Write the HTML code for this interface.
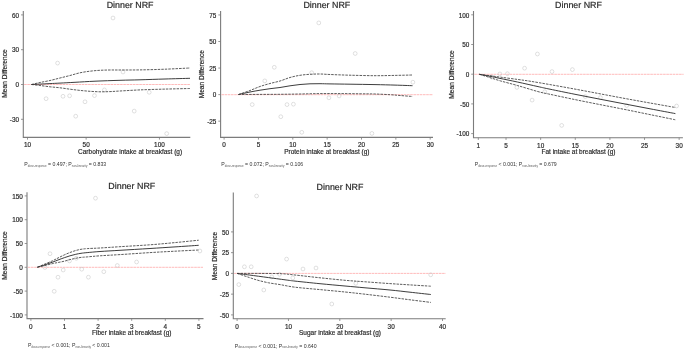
<!DOCTYPE html>
<html><head><meta charset="utf-8"><style>
html,body{margin:0;padding:0;background:#fff;}
svg{display:block;filter:blur(0.3px);}
text{font-family:"Liberation Sans", sans-serif;stroke:#2a2a2a;stroke-width:0.18px;}
.gp{text-rendering:geometricPrecision;}
</style></head><body>
<svg width="685" height="350" viewBox="0 0 685 350">
<rect width="685" height="350" fill="#fff"/>
<path d="M23.3,11 V137.4 H190.3" fill="none" stroke="#7c7c7c" stroke-width="1.1"/>
<line x1="21.0" y1="14.90" x2="23.3" y2="14.90" stroke="#7c7c7c" stroke-width="0.8"/>
<text x="19.1" y="17.6" font-size="6.4" text-anchor="end" fill="#2a2a2a" >60</text>
<line x1="21.0" y1="49.70" x2="23.3" y2="49.70" stroke="#7c7c7c" stroke-width="0.8"/>
<text x="19.1" y="52.4" font-size="6.4" text-anchor="end" fill="#2a2a2a" >30</text>
<line x1="21.0" y1="84.50" x2="23.3" y2="84.50" stroke="#7c7c7c" stroke-width="0.8"/>
<text x="19.1" y="87.2" font-size="6.4" text-anchor="end" fill="#2a2a2a" >0</text>
<line x1="21.0" y1="119.30" x2="23.3" y2="119.30" stroke="#7c7c7c" stroke-width="0.8"/>
<text x="19.1" y="122.0" font-size="6.4" text-anchor="end" fill="#2a2a2a" >-30</text>
<line x1="27.50" y1="137.4" x2="27.50" y2="139.6" stroke="#7c7c7c" stroke-width="0.8"/>
<text x="27.5" y="147.3" font-size="6.4" text-anchor="middle" fill="#2a2a2a" >10</text>
<line x1="86.14" y1="137.4" x2="86.14" y2="139.6" stroke="#7c7c7c" stroke-width="0.8"/>
<text x="86.14" y="147.3" font-size="6.4" text-anchor="middle" fill="#2a2a2a" >50</text>
<line x1="159.44" y1="137.4" x2="159.44" y2="139.6" stroke="#7c7c7c" stroke-width="0.8"/>
<text x="159.44" y="147.3" font-size="6.4" text-anchor="middle" fill="#2a2a2a" >100</text>
<line x1="24.1" y1="84.5" x2="190" y2="84.5" stroke="#ffaaaa" stroke-width="0.8" stroke-dasharray="2.6 0.6"/>
<circle cx="113" cy="18" r="1.9" fill="none" stroke="#c0c0c0" stroke-width="0.5"/>
<circle cx="57.6" cy="63.1" r="1.9" fill="none" stroke="#c0c0c0" stroke-width="0.5"/>
<circle cx="46.1" cy="98.7" r="1.9" fill="none" stroke="#c0c0c0" stroke-width="0.5"/>
<circle cx="63" cy="96.3" r="1.9" fill="none" stroke="#c0c0c0" stroke-width="0.5"/>
<circle cx="69.6" cy="95.8" r="1.9" fill="none" stroke="#c0c0c0" stroke-width="0.5"/>
<circle cx="85" cy="101.8" r="1.9" fill="none" stroke="#c0c0c0" stroke-width="0.5"/>
<circle cx="75.7" cy="116.2" r="1.9" fill="none" stroke="#c0c0c0" stroke-width="0.5"/>
<circle cx="94.5" cy="95.6" r="1.9" fill="none" stroke="#c0c0c0" stroke-width="0.5"/>
<circle cx="104.4" cy="89.9" r="1.9" fill="none" stroke="#c0c0c0" stroke-width="0.5"/>
<circle cx="123" cy="72" r="1.9" fill="none" stroke="#c0c0c0" stroke-width="0.5"/>
<circle cx="149.2" cy="92.3" r="1.9" fill="none" stroke="#c0c0c0" stroke-width="0.5"/>
<circle cx="134.2" cy="111.1" r="1.9" fill="none" stroke="#c0c0c0" stroke-width="0.5"/>
<circle cx="166.7" cy="133.6" r="1.9" fill="none" stroke="#c0c0c0" stroke-width="0.5"/>
<path d="M31.50,84.50 C32.92,84.17 36.92,83.17 40.00,82.50 C43.08,81.83 46.67,81.25 50.00,80.50 C53.33,79.75 56.67,78.83 60.00,78.00 C63.33,77.17 66.67,76.37 70.00,75.50 C73.33,74.63 76.67,73.52 80.00,72.80 C83.33,72.08 86.67,71.62 90.00,71.20 C93.33,70.78 96.67,70.50 100.00,70.30 C103.33,70.10 106.67,70.05 110.00,70.00 C113.33,69.95 115.00,70.02 120.00,70.00 C125.00,69.98 132.50,70.03 140.00,69.90 C147.50,69.77 156.67,69.52 165.00,69.20 C173.33,68.88 185.83,68.20 190.00,68.00" fill="none" stroke="#4a4a4a" stroke-width="0.9" stroke-dasharray="2.5 1.05"/>
<path d="M31.50,84.50 C32.92,84.67 36.92,85.12 40.00,85.50 C43.08,85.88 46.67,86.42 50.00,86.80 C53.33,87.18 56.67,87.40 60.00,87.80 C63.33,88.20 66.67,88.77 70.00,89.20 C73.33,89.63 76.67,90.05 80.00,90.40 C83.33,90.75 86.67,91.07 90.00,91.30 C93.33,91.53 96.67,91.75 100.00,91.80 C103.33,91.85 106.67,91.73 110.00,91.60 C113.33,91.47 115.00,91.28 120.00,91.00 C125.00,90.72 132.50,90.22 140.00,89.90 C147.50,89.58 156.67,89.33 165.00,89.10 C173.33,88.87 185.83,88.60 190.00,88.50" fill="none" stroke="#4a4a4a" stroke-width="0.9" stroke-dasharray="2.5 1.05"/>
<path d="M31.50,84.50 C32.92,84.43 36.92,84.25 40.00,84.10 C43.08,83.95 46.67,83.77 50.00,83.60 C53.33,83.43 55.83,83.32 60.00,83.10 C64.17,82.88 69.17,82.62 75.00,82.30 C80.83,81.98 87.50,81.53 95.00,81.20 C102.50,80.87 112.50,80.53 120.00,80.30 C127.50,80.07 132.50,80.02 140.00,79.80 C147.50,79.58 156.67,79.25 165.00,79.00 C173.33,78.75 185.83,78.42 190.00,78.30" fill="none" stroke="#333" stroke-width="0.95"/>
<text x="130.1" y="8.0" font-size="8.9" text-anchor="middle" fill="#1e1e1e"  class="gp">Dinner NRF</text>
<text x="130.1" y="153.6" font-size="6.5" text-anchor="middle" fill="#2a2a2a" >Carbohydrate intake at breakfast (g)</text>
<text x="0" y="0" font-size="6.6" text-anchor="middle" fill="#2a2a2a" transform="translate(7.0,73.5) rotate(-90)">Mean Difference</text>
<text x="24.3" y="166.2" font-size="5.2" fill="#333" style="stroke:none">P<tspan font-size="2.85" dy="0.4" fill="#5a5a5a">dose-response</tspan><tspan dy="-0.4"> = 0.497; P</tspan><tspan font-size="2.85" dy="0.4" fill="#5a5a5a">non-linearity</tspan><tspan dy="-0.4"> = 0.833</tspan></text>
<path d="M220.6,11 V137.4 H433" fill="none" stroke="#7c7c7c" stroke-width="1.1"/>
<line x1="218.29999999999998" y1="14.95" x2="220.6" y2="14.95" stroke="#7c7c7c" stroke-width="0.8"/>
<text x="216.4" y="17.65" font-size="6.4" text-anchor="end" fill="#2a2a2a" >75</text>
<line x1="218.29999999999998" y1="41.50" x2="220.6" y2="41.50" stroke="#7c7c7c" stroke-width="0.8"/>
<text x="216.4" y="44.2" font-size="6.4" text-anchor="end" fill="#2a2a2a" >50</text>
<line x1="218.29999999999998" y1="68.05" x2="220.6" y2="68.05" stroke="#7c7c7c" stroke-width="0.8"/>
<text x="216.4" y="70.75" font-size="6.4" text-anchor="end" fill="#2a2a2a" >25</text>
<line x1="218.29999999999998" y1="94.60" x2="220.6" y2="94.60" stroke="#7c7c7c" stroke-width="0.8"/>
<text x="216.4" y="97.3" font-size="6.4" text-anchor="end" fill="#2a2a2a" >0</text>
<line x1="218.29999999999998" y1="121.15" x2="220.6" y2="121.15" stroke="#7c7c7c" stroke-width="0.8"/>
<text x="216.4" y="123.85" font-size="6.4" text-anchor="end" fill="#2a2a2a" >-25</text>
<line x1="224.10" y1="137.4" x2="224.10" y2="139.6" stroke="#7c7c7c" stroke-width="0.8"/>
<text x="224.1" y="147.2" font-size="6.4" text-anchor="middle" fill="#2a2a2a" >0</text>
<line x1="258.45" y1="137.4" x2="258.45" y2="139.6" stroke="#7c7c7c" stroke-width="0.8"/>
<text x="258.45" y="147.2" font-size="6.4" text-anchor="middle" fill="#2a2a2a" >5</text>
<line x1="292.80" y1="137.4" x2="292.80" y2="139.6" stroke="#7c7c7c" stroke-width="0.8"/>
<text x="292.8" y="147.2" font-size="6.4" text-anchor="middle" fill="#2a2a2a" >10</text>
<line x1="327.15" y1="137.4" x2="327.15" y2="139.6" stroke="#7c7c7c" stroke-width="0.8"/>
<text x="327.15" y="147.2" font-size="6.4" text-anchor="middle" fill="#2a2a2a" >15</text>
<line x1="361.50" y1="137.4" x2="361.50" y2="139.6" stroke="#7c7c7c" stroke-width="0.8"/>
<text x="361.5" y="147.2" font-size="6.4" text-anchor="middle" fill="#2a2a2a" >20</text>
<line x1="395.85" y1="137.4" x2="395.85" y2="139.6" stroke="#7c7c7c" stroke-width="0.8"/>
<text x="395.85" y="147.2" font-size="6.4" text-anchor="middle" fill="#2a2a2a" >25</text>
<line x1="430.20" y1="137.4" x2="430.20" y2="139.6" stroke="#7c7c7c" stroke-width="0.8"/>
<text x="430.2" y="147.2" font-size="6.4" text-anchor="middle" fill="#2a2a2a" >30</text>
<line x1="221.4" y1="94.7" x2="433" y2="94.7" stroke="#ffaaaa" stroke-width="0.8" stroke-dasharray="2.6 0.6"/>
<circle cx="318.8" cy="22.9" r="1.9" fill="none" stroke="#c0c0c0" stroke-width="0.5"/>
<circle cx="355.2" cy="53.5" r="1.9" fill="none" stroke="#c0c0c0" stroke-width="0.5"/>
<circle cx="274.3" cy="67.3" r="1.9" fill="none" stroke="#c0c0c0" stroke-width="0.5"/>
<circle cx="264.8" cy="80.9" r="1.9" fill="none" stroke="#c0c0c0" stroke-width="0.5"/>
<circle cx="311.7" cy="72.7" r="1.9" fill="none" stroke="#c0c0c0" stroke-width="0.5"/>
<circle cx="412.9" cy="82.2" r="1.9" fill="none" stroke="#c0c0c0" stroke-width="0.5"/>
<circle cx="252.2" cy="104.6" r="1.9" fill="none" stroke="#c0c0c0" stroke-width="0.5"/>
<circle cx="287" cy="104.6" r="1.9" fill="none" stroke="#c0c0c0" stroke-width="0.5"/>
<circle cx="293.4" cy="104.2" r="1.9" fill="none" stroke="#c0c0c0" stroke-width="0.5"/>
<circle cx="280.8" cy="116.7" r="1.9" fill="none" stroke="#c0c0c0" stroke-width="0.5"/>
<circle cx="301.8" cy="132.3" r="1.9" fill="none" stroke="#c0c0c0" stroke-width="0.5"/>
<circle cx="328.9" cy="97.8" r="1.9" fill="none" stroke="#c0c0c0" stroke-width="0.5"/>
<circle cx="339.1" cy="95.9" r="1.9" fill="none" stroke="#c0c0c0" stroke-width="0.5"/>
<circle cx="371.9" cy="133.4" r="1.9" fill="none" stroke="#c0c0c0" stroke-width="0.5"/>
<path d="M238.50,94.50 C240.42,93.83 246.42,91.83 250.00,90.50 C253.58,89.17 256.67,87.67 260.00,86.50 C263.33,85.33 266.67,84.42 270.00,83.50 C273.33,82.58 276.67,82.00 280.00,81.00 C283.33,80.00 286.67,78.45 290.00,77.50 C293.33,76.55 296.67,75.83 300.00,75.30 C303.33,74.77 306.67,74.52 310.00,74.30 C313.33,74.08 316.67,73.97 320.00,74.00 C323.33,74.03 325.00,74.30 330.00,74.50 C335.00,74.70 342.50,75.00 350.00,75.20 C357.50,75.40 367.50,75.67 375.00,75.70 C382.50,75.73 388.75,75.52 395.00,75.40 C401.25,75.28 409.58,75.07 412.50,75.00" fill="none" stroke="#4a4a4a" stroke-width="0.9" stroke-dasharray="2.5 1.05"/>
<path d="M238.50,94.50 C242.08,94.48 253.08,94.43 260.00,94.40 C266.92,94.37 273.33,94.37 280.00,94.30 C286.67,94.23 293.33,94.12 300.00,94.00 C306.67,93.88 313.33,93.67 320.00,93.60 C326.67,93.53 333.33,93.57 340.00,93.60 C346.67,93.63 354.17,93.73 360.00,93.80 C365.83,93.87 370.00,93.85 375.00,94.00 C380.00,94.15 385.83,94.45 390.00,94.70 C394.17,94.95 396.25,95.20 400.00,95.50 C403.75,95.80 410.42,96.33 412.50,96.50" fill="none" stroke="#4a4a4a" stroke-width="0.9" stroke-dasharray="2.5 1.05"/>
<path d="M238.50,94.50 C240.42,94.08 246.42,92.72 250.00,92.00 C253.58,91.28 256.67,90.75 260.00,90.20 C263.33,89.65 266.67,89.15 270.00,88.70 C273.33,88.25 276.67,87.98 280.00,87.50 C283.33,87.02 286.67,86.30 290.00,85.80 C293.33,85.30 296.67,84.83 300.00,84.50 C303.33,84.17 306.67,83.93 310.00,83.80 C313.33,83.67 316.67,83.68 320.00,83.70 C323.33,83.72 325.00,83.82 330.00,83.90 C335.00,83.98 342.50,84.08 350.00,84.20 C357.50,84.32 367.50,84.45 375.00,84.60 C382.50,84.75 388.75,84.92 395.00,85.10 C401.25,85.28 409.58,85.60 412.50,85.70" fill="none" stroke="#333" stroke-width="0.95"/>
<text x="326.85" y="8.1" font-size="8.9" text-anchor="middle" fill="#1e1e1e"  class="gp">Dinner NRF</text>
<text x="326.85" y="153.6" font-size="6.5" text-anchor="middle" fill="#2a2a2a" >Protein intake at breakfast (g)</text>
<text x="0" y="0" font-size="6.6" text-anchor="middle" fill="#2a2a2a" transform="translate(204.0,74.2) rotate(-90)">Mean Difference</text>
<text x="221.3" y="166.2" font-size="5.2" fill="#333" style="stroke:none">P<tspan font-size="2.85" dy="0.4" fill="#5a5a5a">dose-response</tspan><tspan dy="-0.4"> = 0.072; P</tspan><tspan font-size="2.85" dy="0.4" fill="#5a5a5a">non-linearity</tspan><tspan dy="-0.4"> = 0.106</tspan></text>
<path d="M473.5,11 V137.7 H682.9" fill="none" stroke="#7c7c7c" stroke-width="1.1"/>
<line x1="471.2" y1="14.80" x2="473.5" y2="14.80" stroke="#7c7c7c" stroke-width="0.8"/>
<text x="469.3" y="17.5" font-size="6.4" text-anchor="end" fill="#2a2a2a" >100</text>
<line x1="471.2" y1="44.50" x2="473.5" y2="44.50" stroke="#7c7c7c" stroke-width="0.8"/>
<text x="469.3" y="47.2" font-size="6.4" text-anchor="end" fill="#2a2a2a" >50</text>
<line x1="471.2" y1="74.20" x2="473.5" y2="74.20" stroke="#7c7c7c" stroke-width="0.8"/>
<text x="469.3" y="76.9" font-size="6.4" text-anchor="end" fill="#2a2a2a" >0</text>
<line x1="471.2" y1="103.90" x2="473.5" y2="103.90" stroke="#7c7c7c" stroke-width="0.8"/>
<text x="469.3" y="106.6" font-size="6.4" text-anchor="end" fill="#2a2a2a" >-50</text>
<line x1="471.2" y1="133.60" x2="473.5" y2="133.60" stroke="#7c7c7c" stroke-width="0.8"/>
<text x="469.3" y="136.3" font-size="6.4" text-anchor="end" fill="#2a2a2a" >-100</text>
<line x1="478.32" y1="137.7" x2="478.32" y2="139.89999999999998" stroke="#7c7c7c" stroke-width="0.8"/>
<text x="478.32" y="147.6" font-size="6.4" text-anchor="middle" fill="#2a2a2a" >1</text>
<line x1="506.02" y1="137.7" x2="506.02" y2="139.89999999999998" stroke="#7c7c7c" stroke-width="0.8"/>
<text x="506.02" y="147.6" font-size="6.4" text-anchor="middle" fill="#2a2a2a" >5</text>
<line x1="540.65" y1="137.7" x2="540.65" y2="139.89999999999998" stroke="#7c7c7c" stroke-width="0.8"/>
<text x="540.65" y="147.6" font-size="6.4" text-anchor="middle" fill="#2a2a2a" >10</text>
<line x1="575.27" y1="137.7" x2="575.27" y2="139.89999999999998" stroke="#7c7c7c" stroke-width="0.8"/>
<text x="575.27" y="147.6" font-size="6.4" text-anchor="middle" fill="#2a2a2a" >15</text>
<line x1="609.90" y1="137.7" x2="609.90" y2="139.89999999999998" stroke="#7c7c7c" stroke-width="0.8"/>
<text x="609.9" y="147.6" font-size="6.4" text-anchor="middle" fill="#2a2a2a" >20</text>
<line x1="644.52" y1="137.7" x2="644.52" y2="139.89999999999998" stroke="#7c7c7c" stroke-width="0.8"/>
<text x="644.52" y="147.6" font-size="6.4" text-anchor="middle" fill="#2a2a2a" >25</text>
<line x1="679.15" y1="137.7" x2="679.15" y2="139.89999999999998" stroke="#7c7c7c" stroke-width="0.8"/>
<text x="679.15" y="147.6" font-size="6.4" text-anchor="middle" fill="#2a2a2a" >30</text>
<line x1="474.3" y1="74.3" x2="683.6" y2="74.3" stroke="#ffaaaa" stroke-width="0.8" stroke-dasharray="2.6 0.6"/>
<circle cx="537.4" cy="54" r="1.9" fill="none" stroke="#c0c0c0" stroke-width="0.5"/>
<circle cx="524.6" cy="68.2" r="1.9" fill="none" stroke="#c0c0c0" stroke-width="0.5"/>
<circle cx="499.9" cy="73.9" r="1.9" fill="none" stroke="#c0c0c0" stroke-width="0.5"/>
<circle cx="507.4" cy="73.7" r="1.9" fill="none" stroke="#c0c0c0" stroke-width="0.5"/>
<circle cx="552" cy="71.6" r="1.9" fill="none" stroke="#c0c0c0" stroke-width="0.5"/>
<circle cx="572.4" cy="69.6" r="1.9" fill="none" stroke="#c0c0c0" stroke-width="0.5"/>
<circle cx="516.9" cy="87.4" r="1.9" fill="none" stroke="#c0c0c0" stroke-width="0.5"/>
<circle cx="544.8" cy="91.8" r="1.9" fill="none" stroke="#c0c0c0" stroke-width="0.5"/>
<circle cx="532.1" cy="100.1" r="1.9" fill="none" stroke="#c0c0c0" stroke-width="0.5"/>
<circle cx="561.7" cy="125.4" r="1.9" fill="none" stroke="#c0c0c0" stroke-width="0.5"/>
<circle cx="676.6" cy="106" r="1.9" fill="none" stroke="#c0c0c0" stroke-width="0.5"/>
<circle cx="585.3" cy="96.6" r="1.9" fill="none" stroke="#c0c0c0" stroke-width="0.5"/>
<circle cx="600.4" cy="97.6" r="1.9" fill="none" stroke="#c0c0c0" stroke-width="0.5"/>
<circle cx="626.7" cy="105.5" r="1.9" fill="none" stroke="#c0c0c0" stroke-width="0.5"/>
<circle cx="491.7" cy="77.1" r="1.9" fill="none" stroke="#c0c0c0" stroke-width="0.5"/>
<path d="M479.30,74.30 C481.08,74.53 486.42,75.22 490.00,75.70 C493.58,76.18 496.23,76.58 500.80,77.20 C505.37,77.82 512.53,78.73 517.40,79.40 C522.27,80.07 524.57,80.33 530.00,81.20 C535.43,82.07 542.50,83.28 550.00,84.60 C557.50,85.92 566.67,87.57 575.00,89.10 C583.33,90.63 591.67,92.23 600.00,93.80 C608.33,95.37 616.67,96.97 625.00,98.50 C633.33,100.03 641.60,101.50 650.00,103.00 C658.40,104.50 671.17,106.75 675.40,107.50" fill="none" stroke="#4a4a4a" stroke-width="0.9" stroke-dasharray="2.5 1.05"/>
<path d="M479.30,74.30 C481.08,74.85 486.42,76.48 490.00,77.60 C493.58,78.72 496.23,79.68 500.80,81.00 C505.37,82.32 511.20,83.73 517.40,85.50 C523.60,87.27 532.57,90.13 538.00,91.60 C543.43,93.07 543.83,92.97 550.00,94.30 C556.17,95.63 566.67,97.88 575.00,99.60 C583.33,101.32 591.67,102.95 600.00,104.60 C608.33,106.25 616.67,107.83 625.00,109.50 C633.33,111.17 641.60,112.88 650.00,114.60 C658.40,116.32 671.17,118.93 675.40,119.80" fill="none" stroke="#4a4a4a" stroke-width="0.9" stroke-dasharray="2.5 1.05"/>
<path d="M479.30,74.30 C481.08,74.63 486.55,75.62 490.00,76.30 C493.45,76.98 495.43,77.45 500.00,78.40 C504.57,79.35 511.07,80.63 517.40,82.00 C523.73,83.37 532.57,85.40 538.00,86.60 C543.43,87.80 543.83,87.92 550.00,89.20 C556.17,90.48 566.67,92.63 575.00,94.30 C583.33,95.97 591.67,97.58 600.00,99.20 C608.33,100.82 616.67,102.40 625.00,104.00 C633.33,105.60 641.60,107.20 650.00,108.80 C658.40,110.40 671.17,112.80 675.40,113.60" fill="none" stroke="#333" stroke-width="0.95"/>
<text x="578.5" y="8.0" font-size="8.9" text-anchor="middle" fill="#1e1e1e"  class="gp">Dinner NRF</text>
<text x="578.5" y="154.1" font-size="6.5" text-anchor="middle" fill="#2a2a2a" >Fat intake at breakfast (g)</text>
<text x="0" y="0" font-size="6.6" text-anchor="middle" fill="#2a2a2a" transform="translate(454.0,74.5) rotate(-90)">Mean Difference</text>
<text x="474.8" y="166.3" font-size="5.2" fill="#333" style="stroke:none">P<tspan font-size="2.85" dy="0.4" fill="#5a5a5a">dose-response</tspan><tspan dy="-0.4"> &lt; 0.001; P</tspan><tspan font-size="2.85" dy="0.4" fill="#5a5a5a">non-linearity</tspan><tspan dy="-0.4"> = 0.679</tspan></text>
<path d="M27.0,192.2 V318.6 H203.5" fill="none" stroke="#7c7c7c" stroke-width="1.1"/>
<line x1="24.7" y1="195.90" x2="27.0" y2="195.90" stroke="#7c7c7c" stroke-width="0.8"/>
<text x="22.8" y="198.6" font-size="6.4" text-anchor="end" fill="#2a2a2a" >150</text>
<line x1="24.7" y1="219.70" x2="27.0" y2="219.70" stroke="#7c7c7c" stroke-width="0.8"/>
<text x="22.8" y="222.4" font-size="6.4" text-anchor="end" fill="#2a2a2a" >100</text>
<line x1="24.7" y1="243.50" x2="27.0" y2="243.50" stroke="#7c7c7c" stroke-width="0.8"/>
<text x="22.8" y="246.2" font-size="6.4" text-anchor="end" fill="#2a2a2a" >50</text>
<line x1="24.7" y1="267.30" x2="27.0" y2="267.30" stroke="#7c7c7c" stroke-width="0.8"/>
<text x="22.8" y="270.0" font-size="6.4" text-anchor="end" fill="#2a2a2a" >0</text>
<line x1="24.7" y1="291.10" x2="27.0" y2="291.10" stroke="#7c7c7c" stroke-width="0.8"/>
<text x="22.8" y="293.8" font-size="6.4" text-anchor="end" fill="#2a2a2a" >-50</text>
<line x1="24.7" y1="314.90" x2="27.0" y2="314.90" stroke="#7c7c7c" stroke-width="0.8"/>
<text x="22.8" y="317.6" font-size="6.4" text-anchor="end" fill="#2a2a2a" >-100</text>
<line x1="30.90" y1="318.6" x2="30.90" y2="320.8" stroke="#7c7c7c" stroke-width="0.8"/>
<text x="30.9" y="328.6" font-size="6.4" text-anchor="middle" fill="#2a2a2a" >0</text>
<line x1="64.50" y1="318.6" x2="64.50" y2="320.8" stroke="#7c7c7c" stroke-width="0.8"/>
<text x="64.5" y="328.6" font-size="6.4" text-anchor="middle" fill="#2a2a2a" >1</text>
<line x1="98.10" y1="318.6" x2="98.10" y2="320.8" stroke="#7c7c7c" stroke-width="0.8"/>
<text x="98.1" y="328.6" font-size="6.4" text-anchor="middle" fill="#2a2a2a" >2</text>
<line x1="131.70" y1="318.6" x2="131.70" y2="320.8" stroke="#7c7c7c" stroke-width="0.8"/>
<text x="131.7" y="328.6" font-size="6.4" text-anchor="middle" fill="#2a2a2a" >3</text>
<line x1="165.30" y1="318.6" x2="165.30" y2="320.8" stroke="#7c7c7c" stroke-width="0.8"/>
<text x="165.3" y="328.6" font-size="6.4" text-anchor="middle" fill="#2a2a2a" >4</text>
<line x1="198.90" y1="318.6" x2="198.90" y2="320.8" stroke="#7c7c7c" stroke-width="0.8"/>
<text x="198.9" y="328.6" font-size="6.4" text-anchor="middle" fill="#2a2a2a" >5</text>
<line x1="27.8" y1="267.3" x2="203" y2="267.3" stroke="#ffaaaa" stroke-width="0.8" stroke-dasharray="2.6 0.6"/>
<circle cx="95.5" cy="198.2" r="1.9" fill="none" stroke="#c0c0c0" stroke-width="0.5"/>
<circle cx="50" cy="253.7" r="1.9" fill="none" stroke="#c0c0c0" stroke-width="0.5"/>
<circle cx="44.9" cy="267.5" r="1.9" fill="none" stroke="#c0c0c0" stroke-width="0.5"/>
<circle cx="63.2" cy="270" r="1.9" fill="none" stroke="#c0c0c0" stroke-width="0.5"/>
<circle cx="58" cy="277.2" r="1.9" fill="none" stroke="#c0c0c0" stroke-width="0.5"/>
<circle cx="69.5" cy="260.9" r="1.9" fill="none" stroke="#c0c0c0" stroke-width="0.5"/>
<circle cx="76.3" cy="258.3" r="1.9" fill="none" stroke="#c0c0c0" stroke-width="0.5"/>
<circle cx="81.7" cy="269.2" r="1.9" fill="none" stroke="#c0c0c0" stroke-width="0.5"/>
<circle cx="88.4" cy="277.2" r="1.9" fill="none" stroke="#c0c0c0" stroke-width="0.5"/>
<circle cx="103.8" cy="271.7" r="1.9" fill="none" stroke="#c0c0c0" stroke-width="0.5"/>
<circle cx="117.3" cy="265.5" r="1.9" fill="none" stroke="#c0c0c0" stroke-width="0.5"/>
<circle cx="54.2" cy="291.3" r="1.9" fill="none" stroke="#c0c0c0" stroke-width="0.5"/>
<circle cx="136.6" cy="262" r="1.9" fill="none" stroke="#c0c0c0" stroke-width="0.5"/>
<circle cx="199.9" cy="251" r="1.9" fill="none" stroke="#c0c0c0" stroke-width="0.5"/>
<path d="M37.40,267.20 C38.67,266.67 42.42,265.10 45.00,264.00 C47.58,262.90 50.73,261.60 52.90,260.60 C55.07,259.60 56.10,258.95 58.00,258.00 C59.90,257.05 62.30,255.82 64.30,254.90 C66.30,253.98 68.08,253.23 70.00,252.50 C71.92,251.77 73.97,251.03 75.80,250.50 C77.63,249.97 79.10,249.62 81.00,249.30 C82.90,248.98 84.03,248.82 87.20,248.60 C90.37,248.38 94.53,248.32 100.00,248.00 C105.47,247.68 111.67,247.23 120.00,246.70 C128.33,246.17 140.83,245.48 150.00,244.80 C159.17,244.12 166.88,243.37 175.00,242.60 C183.12,241.83 194.75,240.60 198.70,240.20" fill="none" stroke="#4a4a4a" stroke-width="0.9" stroke-dasharray="2.5 1.05"/>
<path d="M37.40,267.20 C38.67,266.92 42.42,266.12 45.00,265.50 C47.58,264.88 50.73,264.00 52.90,263.50 C55.07,263.00 56.10,262.88 58.00,262.50 C59.90,262.12 62.30,261.68 64.30,261.20 C66.30,260.72 68.08,260.08 70.00,259.60 C71.92,259.12 73.97,258.67 75.80,258.30 C77.63,257.93 79.10,257.63 81.00,257.40 C82.90,257.17 84.03,257.17 87.20,256.90 C90.37,256.63 94.53,256.18 100.00,255.80 C105.47,255.42 111.67,255.13 120.00,254.60 C128.33,254.07 140.83,253.17 150.00,252.60 C159.17,252.03 166.88,251.63 175.00,251.20 C183.12,250.77 194.75,250.20 198.70,250.00" fill="none" stroke="#4a4a4a" stroke-width="0.9" stroke-dasharray="2.5 1.05"/>
<path d="M37.40,267.20 C38.67,266.80 42.42,265.67 45.00,264.80 C47.58,263.93 50.73,262.80 52.90,262.00 C55.07,261.20 56.10,260.72 58.00,260.00 C59.90,259.28 62.30,258.40 64.30,257.70 C66.30,257.00 68.08,256.37 70.00,255.80 C71.92,255.23 73.97,254.72 75.80,254.30 C77.63,253.88 79.10,253.58 81.00,253.30 C82.90,253.02 84.03,252.90 87.20,252.60 C90.37,252.30 94.53,251.88 100.00,251.50 C105.47,251.12 111.67,250.80 120.00,250.30 C128.33,249.80 140.83,249.07 150.00,248.50 C159.17,247.93 166.88,247.43 175.00,246.90 C183.12,246.37 194.75,245.57 198.70,245.30" fill="none" stroke="#333" stroke-width="0.95"/>
<text x="131.8" y="188.8" font-size="8.9" text-anchor="middle" fill="#1e1e1e"  class="gp">Dinner NRF</text>
<text x="131.8" y="335.2" font-size="6.5" text-anchor="middle" fill="#2a2a2a" >Fiber intake at breakfast (g)</text>
<text x="0" y="0" font-size="6.6" text-anchor="middle" fill="#2a2a2a" transform="translate(6.8,255.5) rotate(-90)">Mean Difference</text>
<text x="27.9" y="347.4" font-size="5.2" fill="#333" style="stroke:none">P<tspan font-size="2.85" dy="0.4" fill="#5a5a5a">dose-response</tspan><tspan dy="-0.4"> &lt; 0.001; P</tspan><tspan font-size="2.85" dy="0.4" fill="#5a5a5a">non-linearity</tspan><tspan dy="-0.4"> &lt; 0.001</tspan></text>
<path d="M233.3,192.6 V318.8 H445.7" fill="none" stroke="#7c7c7c" stroke-width="1.1"/>
<line x1="231.0" y1="231.90" x2="233.3" y2="231.90" stroke="#7c7c7c" stroke-width="0.8"/>
<text x="229.1" y="234.6" font-size="6.4" text-anchor="end" fill="#2a2a2a" >50</text>
<line x1="231.0" y1="252.65" x2="233.3" y2="252.65" stroke="#7c7c7c" stroke-width="0.8"/>
<text x="229.1" y="255.35" font-size="6.4" text-anchor="end" fill="#2a2a2a" >25</text>
<line x1="231.0" y1="273.40" x2="233.3" y2="273.40" stroke="#7c7c7c" stroke-width="0.8"/>
<text x="229.1" y="276.1" font-size="6.4" text-anchor="end" fill="#2a2a2a" >0</text>
<line x1="231.0" y1="294.15" x2="233.3" y2="294.15" stroke="#7c7c7c" stroke-width="0.8"/>
<text x="229.1" y="296.85" font-size="6.4" text-anchor="end" fill="#2a2a2a" >-25</text>
<line x1="231.0" y1="314.90" x2="233.3" y2="314.90" stroke="#7c7c7c" stroke-width="0.8"/>
<text x="229.1" y="317.6" font-size="6.4" text-anchor="end" fill="#2a2a2a" >-50</text>
<line x1="237.10" y1="318.8" x2="237.10" y2="321.0" stroke="#7c7c7c" stroke-width="0.8"/>
<text x="237.1" y="328.7" font-size="6.4" text-anchor="middle" fill="#2a2a2a" >0</text>
<line x1="288.45" y1="318.8" x2="288.45" y2="321.0" stroke="#7c7c7c" stroke-width="0.8"/>
<text x="288.45" y="328.7" font-size="6.4" text-anchor="middle" fill="#2a2a2a" >10</text>
<line x1="339.80" y1="318.8" x2="339.80" y2="321.0" stroke="#7c7c7c" stroke-width="0.8"/>
<text x="339.8" y="328.7" font-size="6.4" text-anchor="middle" fill="#2a2a2a" >20</text>
<line x1="391.15" y1="318.8" x2="391.15" y2="321.0" stroke="#7c7c7c" stroke-width="0.8"/>
<text x="391.15" y="328.7" font-size="6.4" text-anchor="middle" fill="#2a2a2a" >30</text>
<line x1="442.50" y1="318.8" x2="442.50" y2="321.0" stroke="#7c7c7c" stroke-width="0.8"/>
<text x="442.5" y="328.7" font-size="6.4" text-anchor="middle" fill="#2a2a2a" >40</text>
<line x1="234.10000000000002" y1="273.4" x2="445.7" y2="273.4" stroke="#ffaaaa" stroke-width="0.8" stroke-dasharray="2.6 0.6"/>
<circle cx="256.6" cy="196" r="1.9" fill="none" stroke="#c0c0c0" stroke-width="0.5"/>
<circle cx="238.8" cy="284.6" r="1.9" fill="none" stroke="#c0c0c0" stroke-width="0.5"/>
<circle cx="244.4" cy="266.8" r="1.9" fill="none" stroke="#c0c0c0" stroke-width="0.5"/>
<circle cx="251.2" cy="266.8" r="1.9" fill="none" stroke="#c0c0c0" stroke-width="0.5"/>
<circle cx="263.8" cy="290" r="1.9" fill="none" stroke="#c0c0c0" stroke-width="0.5"/>
<circle cx="271.8" cy="276.9" r="1.9" fill="none" stroke="#c0c0c0" stroke-width="0.5"/>
<circle cx="279.5" cy="274.3" r="1.9" fill="none" stroke="#c0c0c0" stroke-width="0.5"/>
<circle cx="286.6" cy="259.1" r="1.9" fill="none" stroke="#c0c0c0" stroke-width="0.5"/>
<circle cx="292.8" cy="277.9" r="1.9" fill="none" stroke="#c0c0c0" stroke-width="0.5"/>
<circle cx="303" cy="269" r="1.9" fill="none" stroke="#c0c0c0" stroke-width="0.5"/>
<circle cx="316" cy="268" r="1.9" fill="none" stroke="#c0c0c0" stroke-width="0.5"/>
<circle cx="355.8" cy="283.3" r="1.9" fill="none" stroke="#c0c0c0" stroke-width="0.5"/>
<circle cx="430.7" cy="274.8" r="1.9" fill="none" stroke="#c0c0c0" stroke-width="0.5"/>
<circle cx="331.8" cy="304" r="1.9" fill="none" stroke="#c0c0c0" stroke-width="0.5"/>
<path d="M237.10,273.40 C240.92,273.40 252.60,273.35 260.00,273.40 C267.40,273.45 275.67,273.43 281.50,273.70 C287.33,273.97 288.58,274.32 295.00,275.00 C301.42,275.68 311.67,276.92 320.00,277.80 C328.33,278.68 337.50,279.63 345.00,280.30 C352.50,280.97 357.50,281.25 365.00,281.80 C372.50,282.35 382.50,283.08 390.00,283.60 C397.50,284.12 403.20,284.47 410.00,284.90 C416.80,285.33 427.33,285.98 430.80,286.20" fill="none" stroke="#4a4a4a" stroke-width="0.9" stroke-dasharray="2.5 1.05"/>
<path d="M237.10,273.40 C239.13,274.08 245.82,276.35 249.30,277.50 C252.78,278.65 254.78,279.42 258.00,280.30 C261.22,281.18 264.93,282.08 268.60,282.80 C272.27,283.52 275.60,283.87 280.00,284.60 C284.40,285.33 288.33,286.37 295.00,287.20 C301.67,288.03 311.67,288.80 320.00,289.60 C328.33,290.40 337.50,291.23 345.00,292.00 C352.50,292.77 357.50,293.33 365.00,294.20 C372.50,295.07 382.50,296.27 390.00,297.20 C397.50,298.13 403.20,298.93 410.00,299.80 C416.80,300.67 427.33,301.97 430.80,302.40" fill="none" stroke="#4a4a4a" stroke-width="0.9" stroke-dasharray="2.5 1.05"/>
<path d="M237.10,273.40 C239.13,273.67 244.05,274.30 249.30,275.00 C254.55,275.70 262.17,276.73 268.60,277.60 C275.03,278.47 283.50,279.62 287.90,280.20 C292.30,280.78 289.65,280.52 295.00,281.10 C300.35,281.68 311.67,282.88 320.00,283.70 C328.33,284.52 337.50,285.32 345.00,286.00 C352.50,286.68 357.50,287.13 365.00,287.80 C372.50,288.47 382.50,289.27 390.00,290.00 C397.50,290.73 403.20,291.45 410.00,292.20 C416.80,292.95 427.33,294.12 430.80,294.50" fill="none" stroke="#333" stroke-width="0.95"/>
<text x="340.0" y="189.7" font-size="8.9" text-anchor="middle" fill="#1e1e1e"  class="gp">Dinner NRF</text>
<text x="340.0" y="335.0" font-size="6.5" text-anchor="middle" fill="#2a2a2a" >Sugar intake at breakfast (g)</text>
<text x="0" y="0" font-size="6.6" text-anchor="middle" fill="#2a2a2a" transform="translate(216.8,256) rotate(-90)">Mean Difference</text>
<text x="234.7" y="347.6" font-size="5.2" fill="#333" style="stroke:none">P<tspan font-size="2.85" dy="0.4" fill="#5a5a5a">dose-response</tspan><tspan dy="-0.4"> &lt; 0.001; P</tspan><tspan font-size="2.85" dy="0.4" fill="#5a5a5a">non-linearity</tspan><tspan dy="-0.4"> = 0.640</tspan></text>
</svg>
</body></html>
